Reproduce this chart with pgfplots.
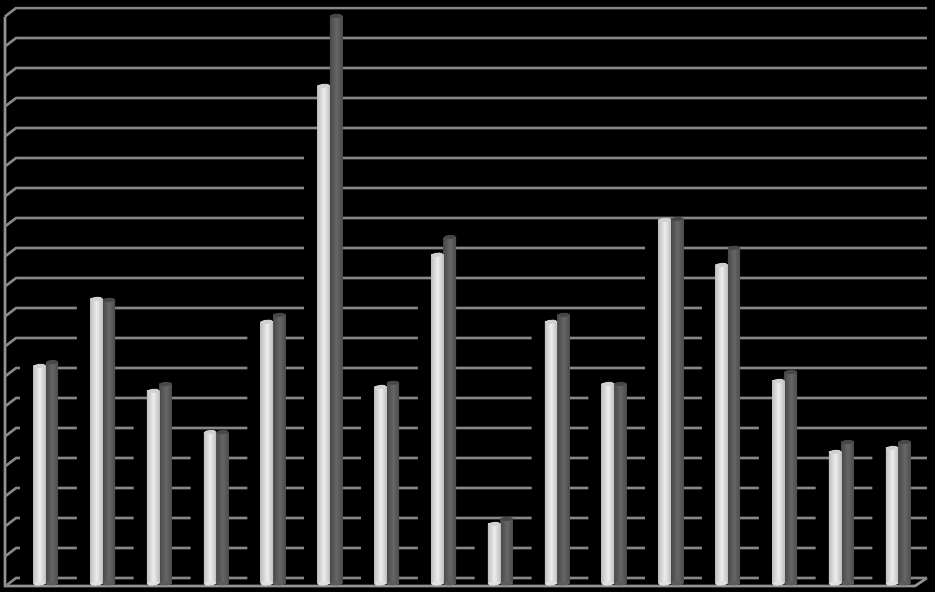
\documentclass[border=0pt]{standalone}
\usepackage{pgfplots}
\usepackage{pgfplotstable}
\pgfplotsset{compat=1.18}
\pgfdeclareplotmark{capw}{\pgfpathellipse{\pgfpointorigin}{\pgfqpoint{4.6pt}{0.35pt}}{\pgfqpoint{0pt}{1.5pt}}\pgfusepathqfill}
\pgfdeclareplotmark{capd}{\pgfpathellipse{\pgfpointorigin}{\pgfqpoint{4.6pt}{0.2pt}}{\pgfqpoint{0pt}{1.5pt}}\pgfusepathqfill}
\pgfplotstableread{
x white dark shadow zero
0 7.24 7.37 7.37 0
1 9.47 9.44 9.43 0
2 6.41 6.64 6.11 0
3 5.04 5.04 4.78 0
4 8.71 8.94 8.60 0
5 16.56 18.89 14.59 0
6 6.54 6.68 6.37 0
7 10.94 11.53 9.60 0
8 1.98 2.15 1.78 0
9 8.71 8.94 8.60 0
10 6.64 6.64 6.44 0
11 12.10 12.13 11.60 0
12 10.60 11.17 9.60 0
13 6.74 7.04 5.61 0
14 4.38 4.71 3.78 0
15 4.51 4.71 4.44 0
}\bars
\begin{document}
\begin{tikzpicture}
\begin{axis}[
  scale only axis, width=701.25pt, height=444pt,
  xmin=-0.8006, xmax=15.652, ymin=-0.2829, ymax=19.418,
  ticks=none, axis line style={draw=none, line width=0pt},
  axis background/.style={fill=black},
  unbounded coords=jump,
]
% walls and floor
\addplot[color=black!42, line width=1.9pt, mark=none] coordinates {
 (-0.7126,18.868) (-0.7126,-0.083) (15.30,-0.083) (15.511,0.183)};
% gridlines with their slanted returns
\addplot[color=black!47, line width=1.9pt, mark=none, line join=round] coordinates {
 (-0.7126,-0.100) (-0.5191,0.183) (15.511,0.183) (0,nan)
 (-0.7126,0.898) (-0.5191,1.181) (15.511,1.181) (0,nan)
 (-0.7126,1.897) (-0.5191,2.180) (15.511,2.180) (0,nan)
 (-0.7126,2.895) (-0.5191,3.178) (15.511,3.178) (0,nan)
 (-0.7126,3.893) (-0.5191,4.176) (15.511,4.176) (0,nan)
 (-0.7126,4.892) (-0.5191,5.175) (15.511,5.175) (0,nan)
 (-0.7126,5.890) (-0.5191,6.173) (15.511,6.173) (0,nan)
 (-0.7126,6.888) (-0.5191,7.171) (15.511,7.171) (0,nan)
 (-0.7126,7.887) (-0.5191,8.170) (15.511,8.170) (0,nan)
 (-0.7126,8.885) (-0.5191,9.168) (15.511,9.168) (0,nan)
 (-0.7126,9.883) (-0.5191,10.166) (15.511,10.166) (0,nan)
 (-0.7126,10.882) (-0.5191,11.165) (15.511,11.165) (0,nan)
 (-0.7126,11.880) (-0.5191,12.163) (15.511,12.163) (0,nan)
 (-0.7126,12.878) (-0.5191,13.161) (15.511,13.161) (0,nan)
 (-0.7126,13.877) (-0.5191,14.160) (15.511,14.160) (0,nan)
 (-0.7126,14.875) (-0.5191,15.158) (15.511,15.158) (0,nan)
 (-0.7126,15.873) (-0.5191,16.156) (15.511,16.156) (0,nan)
 (-0.7126,16.872) (-0.5191,17.155) (15.511,17.155) (0,nan)
 (-0.7126,17.870) (-0.5191,18.153) (15.511,18.153) (0,nan)
 (-0.7126,18.868) (-0.5191,19.151) (15.511,19.151)
};
% shadows that hide the gridlines to the left of each pair
\addplot[ybar, bar width=10pt, bar shift=-14.1pt, fill=black, draw=none] table[x=x,y=shadow]{\bars};
% dark cylinders
\addplot[only marks, mark=capd, color=black!64, mark options={xshift=4.9pt}] table[x=x,y=zero]{\bars};
\pgfplotsinvokeforeach{0,...,15}{
\addplot[ybar, restrict x to domain=#1:#1, bar width=9.3pt, bar shift=4.9pt, draw=none, shading=axis, left color=black!71, right color=black!71, middle color=black!60] table[x=x,y=dark]{\bars};
}
\addplot[only marks, mark=capd, color=black!72, mark options={xshift=4.9pt}] table[x=x,y=dark]{\bars};
% light cylinders
\addplot[only marks, mark=capw, color=black!12, mark options={xshift=-4.5pt}] table[x=x,y=zero]{\bars};
\pgfplotsinvokeforeach{0,...,15}{
\addplot[ybar, restrict x to domain=#1:#1, bar width=9.3pt, bar shift=-4.5pt, draw=none, shading=axis, left color=black!24, right color=black!26, middle color=black!7] table[x=x,y=white]{\bars};
}
\addplot[only marks, mark=capw, color=black!18, mark options={xshift=-4.5pt}] table[x=x,y=white]{\bars};
\end{axis}
\end{tikzpicture}
\end{document}
